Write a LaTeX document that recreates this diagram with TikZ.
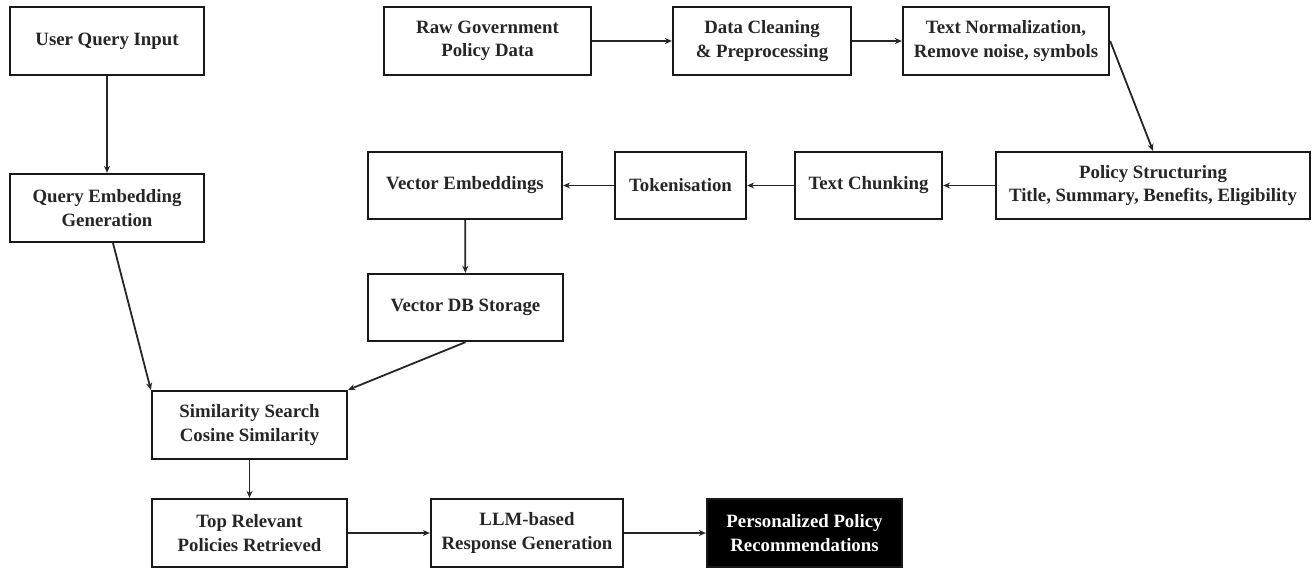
\documentclass[tikz,border=0pt]{standalone}
\usepackage{fontspec}
\setmainfont{Liberation Serif}
\usetikzlibrary{arrows.meta}
\begin{document}
\begin{tikzpicture}[x=1pt,y=-1pt,
  box/.style={draw=black!90,line width=2.3pt,fill=white,align=center,inner sep=0pt,
    font=\fontsize{18.8}{23.5}\selectfont\bfseries,text=black!85},
  darkbox/.style={box,fill=black,text=white},
  conn/.style={line width=1.8pt,draw=black!85,-{Stealth[length=7pt,width=6pt]}}]
\useasboundingbox (0,0) rectangle (1313,569);
\node[box,minimum width=194pt,minimum height=68pt] (uqi) at (107,41) {User Query Input};
\node[box,minimum width=194pt,minimum height=68pt] (qeg) at (107,208) {Query Embedding\\Generation};
\node[box,minimum width=207pt,minimum height=68pt] (raw) at (487.5,41) {Raw Government\\Policy Data};
\node[box,minimum width=178pt,minimum height=68pt] (clean) at (762,41) {Data Cleaning\\\& Preprocessing};
\node[box,minimum width=206pt,minimum height=68pt] (norm) at (1006,41) {Text Normalization,\\Remove noise, symbols};
\node[box,minimum width=314pt,minimum height=67pt] (pstruct) at (1153,185.5) {Policy Structuring\\Title, Summary, Benefits, Eligibility};
\node[box,minimum width=147pt,minimum height=67pt] (chunk) at (868.5,185.5) {Text Chunking};
\node[box,minimum width=131pt,minimum height=67pt] (token) at (680.5,185.5) {Tokenisation};
\node[box,minimum width=194pt,minimum height=67pt] (vemb) at (465,185.5) {Vector Embeddings};
\node[box,minimum width=195pt,minimum height=67pt] (vdb) at (465.5,307.5) {Vector DB Storage};
\node[box,minimum width=195pt,minimum height=68pt] (sim) at (249.5,425) {Similarity Search\\Cosine Similarity};
\node[box,minimum width=195pt,minimum height=68pt] (top) at (249.5,533) {Top Relevant\\Policies Retrieved};
\node[box,minimum width=192pt,minimum height=68pt] (llm) at (527,533) {LLM-based\\Response Generation};
\node[darkbox,minimum width=195pt,minimum height=68pt] (pers) at (804.5,533) {Personalized Policy\\Recommendations};
\draw[conn] (uqi) -- (qeg);
\draw[conn] ([xshift=6pt]qeg.south) -- (sim.north west);
\draw[conn] (raw) -- (clean);
\draw[conn] (clean) -- (norm);
\draw[conn] (norm.east) -- (pstruct.north);
\draw[conn] (pstruct) -- (chunk);
\draw[conn] (chunk) -- (token);
\draw[conn] (token) -- (vemb);
\draw[conn] (vemb) -- (vdb);
\draw[conn] (vdb.south) -- (sim.north east);
\draw[conn] (sim) -- (top);
\draw[conn] (top) -- (llm);
\draw[conn] (llm) -- (pers);
\end{tikzpicture}
\end{document}
